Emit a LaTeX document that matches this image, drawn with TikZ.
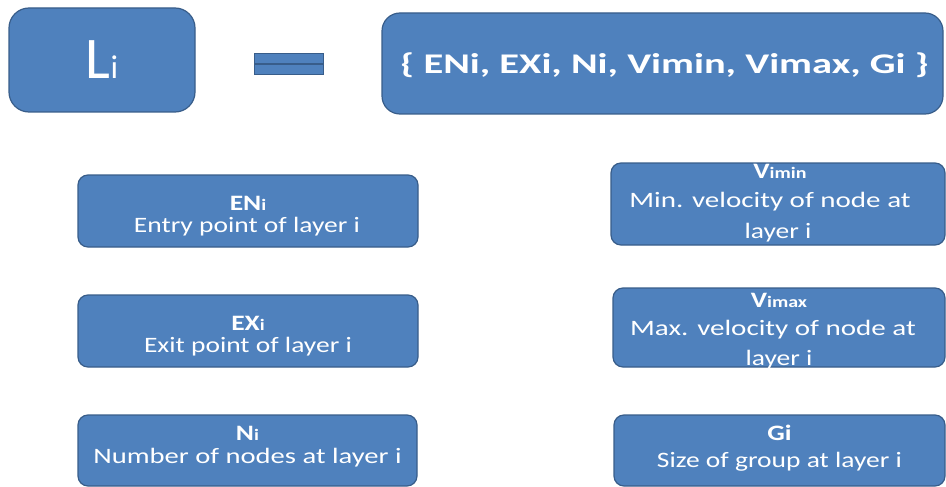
\documentclass[tikz,border=0pt]{standalone}
\usepackage{fontspec}
\usepackage{graphicx}
\setmainfont{Carlito}
\definecolor{boxfill}{RGB}{79,129,189}
\definecolor{boxline}{RGB}{56,93,138}

\tikzset{
  card/.style={draw=boxline, fill=boxfill, line width=1.2pt, rounded corners=10pt, inner sep=0pt},
  bar/.style={draw=boxline, fill=boxfill, line width=0.6pt, inner sep=0pt, minimum width=69pt, minimum height=10pt},
  txt/.style={text=white, anchor=base, inner sep=0pt, font=\fontsize{22}{26}\selectfont},
  head/.style={txt, font=\fontsize{22}{26}\selectfont\bfseries},
}
% horizontally widened text
\newcommand\wide[2][1.25]{\scalebox{#1}[1]{#2}}
\newcommand\sm[1]{{\fontsize{16}{18}\selectfont #1}}

\begin{document}
\begin{tikzpicture}[x=1pt,y=-1pt]
\useasboundingbox (0,0) rectangle (946,487);

% top row: L_i = { ... }
\node[card, rounded corners=20pt, minimum width=186pt, minimum height=104pt] (li) at (102,60) {};
\node[txt, font=\fontsize{59}{60}\selectfont] (lit) at (102,78) {L{\fontsize{33}{34}\selectfont i}};

\node[bar] (eqtop) at (288.5,58) {};
\node[bar] (eqbot) at (288.5,69) {};

\node[card, rounded corners=18pt, minimum width=561pt, minimum height=101pt] (set) at (662.5,63.5) {};
\node[txt, font=\fontsize{28.5}{30}\selectfont\bfseries] (sett) at (664.5,74)
  {\wide[1.42]{\{ ENi, EXi, Ni, Vimin, Vimax, Gi \}}};

% left column
\node[card, minimum width=340pt, minimum height=72pt] (eni) at (248,211) {};
\node[head] (enih) at (248,210) {\wide{EN\sm{i}}};
\node[txt] (enit) at (247,232) {\wide{Entry point of layer i}};

\node[card, minimum width=340pt, minimum height=72pt] (exi) at (248,331) {};
\node[head] (exih) at (248,330) {\wide{EX\sm{i}}};
\node[txt] (exit) at (248,352) {\wide{Exit point of layer i}};

\node[card, minimum width=339pt, minimum height=71pt] (ni) at (247.5,450.5) {};
\node[head] (nih) at (247.5,440) {\wide{N\sm{i}}};
\node[txt] (nit) at (247.5,463) {\wide[1.3]{Number of nodes at layer i}};

% right column
\node[card, minimum width=334pt, minimum height=82pt] (vmin) at (778,204) {};
\node[head] (vminh) at (780,178) {\wide{V\sm{imin}}};
\node[txt] (vmint) at (770,207) {\wide[1.32]{Min. velocity of node at}};
\node[txt] (vmint2) at (778,238) {\wide{layer i}};

\node[card, minimum width=332pt, minimum height=79pt] (vmax) at (779,327.5) {};
\node[head] (vmaxh) at (779,307) {\wide{V\sm{imax}}};
\node[txt] (vmaxt) at (773,335) {\wide[1.32]{Max. velocity of node at}};
\node[txt] (vmaxt2) at (779,365) {\wide{layer i}};

\node[card, minimum width=331pt, minimum height=71pt] (gi) at (779.5,450.5) {};
\node[head] (gih) at (779.5,440) {\wide{Gi}};
\node[txt] (git) at (779.5,467) {\wide{Size of group at layer i}};
\end{tikzpicture}
\end{document}
